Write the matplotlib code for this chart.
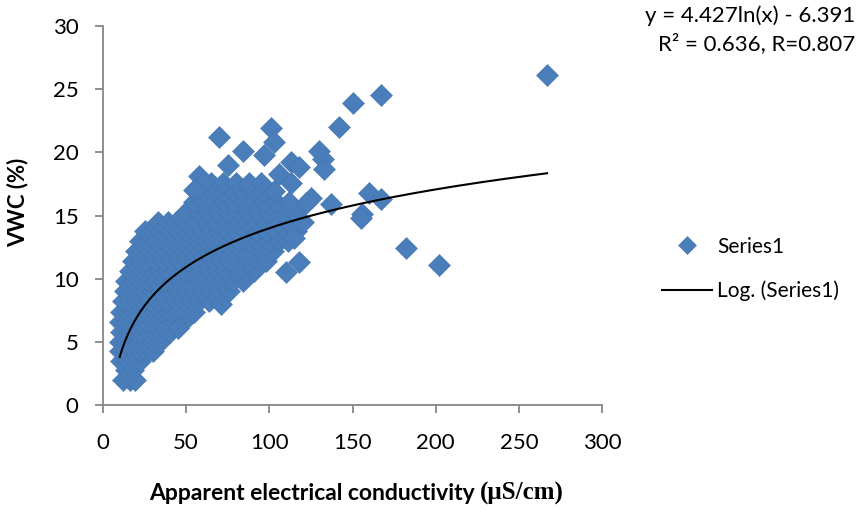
import numpy as np
import matplotlib.pyplot as plt

# ECa (uS/cm) and VWC (%), row by row through the dense cloud
rows = {
    2.0: [12, 16, 19],
    2.8: [14, 18],
    3.5: [11, 15, 19, 22],
    4.3: [10, 14, 18, 22, 26, 30],
    5.0: [10, 14, 18, 22, 26, 30, 34],
    5.8: [11, 15, 19, 23, 27, 31, 35, 40],
    6.6: [10, 14, 18, 22, 26, 30, 34, 38, 43, 48],
    7.4: [11, 15, 19, 23, 27, 31, 35, 40, 45, 50, 55],
    8.2: [12, 16, 20, 24, 28, 33, 38, 43, 48, 53, 58, 64],
    9.0: [13, 17, 21, 25, 30, 35, 40, 45, 50, 55, 60, 65, 70, 76],
    9.8: [14, 18, 22, 27, 32, 37, 42, 47, 52, 57, 62, 67, 72, 78, 84],
    10.6: [16, 20, 24, 29, 34, 39, 44, 49, 54, 59, 64, 69, 74, 80, 86, 91],
    11.4: [18, 22, 26, 31, 36, 41, 46, 51, 56, 61, 66, 71, 76, 82, 88, 94, 98],
    12.2: [20, 24, 28, 33, 38, 43, 48, 53, 58, 63, 68, 73, 78, 84, 90, 96, 102],
    13.0: [22, 27, 32, 37, 42, 47, 52, 57, 62, 67, 72, 77, 82, 88, 94, 100, 106, 111],
    13.8: [25, 30, 35, 40, 45, 50, 55, 60, 65, 70, 75, 80, 86, 92, 98, 104, 110, 116],
    14.5: [33, 39, 44, 49, 56, 62, 68, 74, 80, 86, 92, 98, 105, 112, 118],
    15.3: [50, 57, 63, 69, 75, 81, 87, 93, 100, 108, 115],
    16.1: [55, 61, 67, 73, 79, 85, 91, 97, 104, 112],
    16.9: [60, 66, 72, 78, 84, 90, 96, 103],
    17.6: [65, 72, 80, 88, 95],
}
# scattered points outside the cloud
extra_x = [58, 60, 55, 70, 75, 84, 97, 101, 103, 106, 113, 118, 113, 125, 122,
           130, 132, 133, 142, 150, 167, 267, 137, 160, 167, 156, 155, 182, 202,
           110, 118, 45, 71, 120, 115]
extra_y = [18.1, 17.6, 17.0, 21.2, 19.0, 20.1, 19.8, 21.9, 20.8, 18.3, 19.2, 18.8,
           17.6, 16.4, 16.0, 20.1, 19.5, 18.7, 22.0, 23.9, 24.5, 26.1, 15.9, 16.8,
           16.3, 15.1, 14.8, 12.4, 11.1, 10.5, 11.3, 6.1, 8.0, 14.5, 13.2]

eca = [x for y, xs in rows.items() for x in xs] + extra_x
vwc = [y for y, xs in rows.items() for x in xs] + extra_y

# fitted log trendline
coef_a, coef_b = 4.427, -6.391
eq_text = "y = 4.427ln(x) - 6.391\nR² = 0.636, R=0.807"

plt.rcParams['font.family'] = ['Lato', 'DejaVu Sans']
blue = '#4a7ebb'
grey = '#868686'
fs = 16

fig = plt.figure(figsize=(8.6, 5.13), dpi=100)
ax = fig.add_axes([103/860, 1-405/513, 499/860, 379/513])

ax.plot(eca, vwc, linestyle='none', marker='D', markersize=11,
        color=blue, markeredgecolor='#4674ad', markeredgewidth=0.4, label='Series1')
xs = np.linspace(min(eca), max(eca), 300)
ax.plot(xs, coef_a*np.log(xs) + coef_b, color='black', lw=1.5, label='Log. (Series1)')

ax.set_xlim(0, 300)
ax.set_ylim(0, 30)
ax.set_xticks(range(0, 301, 50))
ax.set_yticks(range(0, 31, 5))
for s in ['top', 'right']:
    ax.spines[s].set_visible(False)
for s in ['left', 'bottom']:
    ax.spines[s].set_color(grey)
    ax.spines[s].set_linewidth(1.3)
ax.tick_params(colors=grey, labelcolor='black', labelsize=fs, length=5.5, width=1.3)
ax.tick_params(axis='y', pad=12)
ax.tick_params(axis='x', pad=15)

fig.text(18/860, 1-202/513, 'VWC (%)', rotation=90, ha='center', va='center',
         fontsize=fs, fontweight='bold')
fig.text(480/860, 1-493/513, 'Apparent electrical conductivity ', ha='right', va='center',
         fontsize=16.5, fontweight='bold')
fig.text(480/860, 1-493/513, '(μS/cm)', ha='left', va='center',
         fontsize=18, fontweight='bold', family='Liberation Serif')

fig.text(855/860, 1-30/513, eq_text, ha='right', va='center', fontsize=fs,
         linespacing=1.4)

fig.legend(loc='center left', bbox_to_anchor=(662/860, 1-269/513), frameon=False,
           fontsize=15, handlelength=2.4, labelspacing=1.15, handletextpad=0.25,
           borderaxespad=0, borderpad=0, markerscale=0.8)

fig.savefig('out.png', dpi=100)
